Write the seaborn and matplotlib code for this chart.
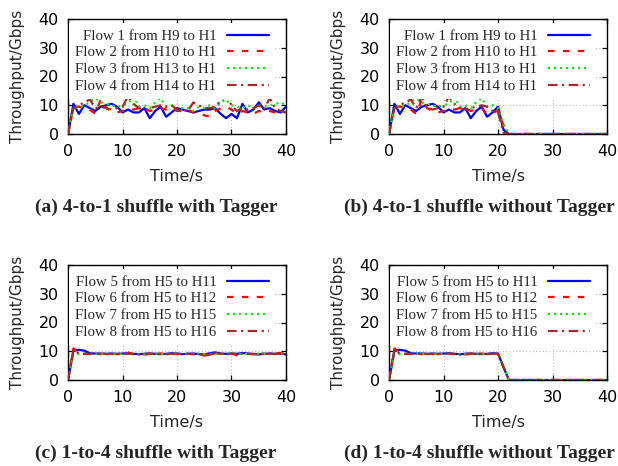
import numpy as np
import pandas as pd
import matplotlib
matplotlib.use("Agg")
import matplotlib.pyplot as plt
import seaborn as sns

time_s = list(range(0, 41))

labels_top = ["Flow 1 from H9 to H1", "Flow 2 from H10 to H1",
              "Flow 3 from H13 to H1", "Flow 4 from H14 to H1"]
labels_bot = ["Flow 5 from H5 to H11", "Flow 6 from H5 to H12",
              "Flow 7 from H5 to H15", "Flow 8 from H5 to H16"]

titles = ["(a) 4-to-1 shuffle with Tagger", "(b) 4-to-1 shuffle without Tagger",
          "(c) 1-to-4 shuffle with Tagger", "(d) 1-to-4 shuffle without Tagger"]

# panel (a)
f1_a = [0, 10.5, 7, 10, 9, 8, 9.5, 10, 10.5, 9.5, 7.5, 8.5, 7.5, 7.5, 9, 5.5, 8, 9.5, 6, 7.5,
        9, 8.5, 8, 7.5, 8, 8.5, 8.5, 9, 7, 5.5, 7, 5.5, 10.5, 7.5, 8.5, 11, 8.5, 9, 8, 7.5, 9.5]
f2_a = [0, 9.5, 9.5, 9, 8.5, 7, 12, 9, 8, 7.5, 8, 8.5, 8.5, 9, 9, 8, 8.5, 9, 8.5, 9,
        8, 8, 8.5, 7.5, 7.5, 6.5, 6, 8, 9, 9.5, 8.5, 7, 8, 7.5, 7, 8, 7.5, 8, 7.5, 8, 7.5]
f3_a = [0, 9.5, 9, 10, 11, 12.5, 11, 10.5, 10, 9.5, 10, 10.5, 13, 9.5, 10, 9, 11, 12.5, 9.5, 10,
        8.5, 9, 9, 8, 9.5, 9, 10, 9, 11, 12, 10, 9.5, 9, 10, 9, 10, 9.5, 10, 10.5, 11, 10]
f4_a = [0, 9, 10, 11, 12, 9, 9.5, 9, 8.5, 9, 9.5, 13, 10.5, 9, 8.5, 9, 9.5, 10, 9.5, 10,
        8.5, 8.5, 8, 11, 10, 9, 9, 9.5, 11.5, 13.5, 10, 8, 9, 8.5, 9, 10, 8.5, 12.5, 9, 8, 7.5]

# panel (b)
f1_b = [0, 10.5, 7, 10, 9, 8, 9.5, 10, 10.5, 9.5, 7.5, 8.5, 7.5, 7.5, 9, 5.5, 8, 9.5, 6, 7.5,
        9.5, 1.5, 0, 0, 0, 0, 0, 0, 0, 0, 0, 0, 0, 0, 0, 0, 0, 0, 0, 0, 0]
f2_b = [0, 9.5, 9.5, 9, 8.5, 7, 12, 9, 8, 7.5, 8, 8.5, 8.5, 9, 9, 8, 8.5, 9, 7, 7.5,
        8, 3, 0, 0, 0, 0, 0, 0, 0, 0, 0, 0, 0, 0, 0, 0, 0, 0, 0, 0, 0]
f3_b = [0, 9.5, 9, 10, 11, 12.5, 11, 10.5, 10, 9.5, 10, 10.5, 13, 9.5, 10, 9, 11, 12.5, 9.5, 10,
        9, 3.5, 0, 0, 0, 0, 0, 0, 0, 0, 0, 0, 0, 0, 0, 0, 0, 0, 0, 0, 0]
f4_b = [0, 9, 10, 11, 12, 9, 13, 9, 8.5, 9, 9.5, 13, 10.5, 9, 8.5, 9, 9.5, 10, 9.5, 8,
        7.5, 0.5, 0, 0, 0, 0, 0, 0, 0, 0, 0, 0, 0, 0, 0, 0, 0, 0, 0, 0, 0]

# panel (c)
f5_c = [0, 10.2, 10.5, 10.2, 9.3, 9.2, 9.2, 9.1, 9.2, 9.1, 9.2, 9.3, 9.1, 9.0, 9.1, 9.2, 9.1, 9.0, 9.1, 9.3,
        9.2, 9.0, 9.1, 9.2, 9.0, 8.9, 9.3, 9.6, 9.2, 9.1, 9.2, 9.1, 9.4, 9.2, 9.0, 8.9, 9.1, 9.2, 9.1, 9.2, 8.9]
f6_c = [0, 11.0, 9.0, 9.2, 9.0, 9.1, 9.0, 9.2, 9.1, 9.0, 9.2, 9.6, 9.0, 9.1, 8.9, 9.0, 9.1, 9.2, 9.0, 9.1,
        9.0, 9.2, 9.1, 9.0, 9.1, 8.5, 8.8, 9.2, 9.1, 9.0, 9.2, 8.6, 9.0, 9.1, 9.0, 9.2, 9.1, 9.0, 9.2, 9.4, 9.0]
f7_c = [0, 8.8, 9.0, 9.1, 9.0, 9.2, 9.1, 9.0, 9.1, 9.2, 9.0, 9.1, 9.2, 9.0, 9.1, 9.0, 9.2, 9.1, 9.0, 9.1,
        9.2, 9.0, 9.1, 9.0, 9.2, 9.1, 9.0, 9.2, 9.1, 9.0, 9.1, 9.2, 9.0, 9.1, 9.0, 9.2, 9.1, 9.0, 9.1, 9.2, 9.0]
f8_c = [0, 10.5, 9.2, 9.0, 9.1, 9.0, 9.2, 9.0, 9.1, 9.0, 9.1, 9.2, 9.0, 8.9, 9.1, 9.2, 9.0, 9.1, 9.0, 9.1,
        9.2, 9.0, 9.1, 9.0, 8.9, 8.6, 8.8, 9.3, 9.1, 9.0, 9.1, 9.0, 9.2, 9.0, 9.1, 9.0, 9.1, 9.2, 9.0, 9.3, 8.9]

# panel (d)
f5_d = [0, 10.2, 10.5, 10.2, 9.3, 9.2, 9.2, 9.1, 9.2, 9.1, 9.2, 9.3, 9.1, 9.0, 9.1, 9.2, 9.1, 9.0, 9.1, 9.3,
        9.2, 4.5, 0, 0, 0, 0, 0, 0, 0, 0, 0, 0, 0, 0, 0, 0, 0, 0, 0, 0, 0]
f6_d = [0, 11.0, 9.0, 9.2, 9.0, 9.1, 9.0, 9.2, 9.1, 9.0, 9.2, 9.3, 9.0, 9.1, 8.9, 9.0, 9.1, 9.2, 9.0, 9.1,
        9.1, 4.5, 0, 0, 0, 0, 0, 0, 0, 0, 0, 0, 0, 0, 0, 0, 0, 0, 0, 0, 0]
f7_d = [0, 8.8, 9.0, 9.1, 9.0, 9.2, 9.1, 9.0, 9.1, 9.2, 9.0, 9.1, 9.2, 9.0, 9.1, 9.0, 9.2, 9.1, 9.0, 9.1,
        9.2, 4.5, 0, 0, 0, 0, 0, 0, 0, 0, 0, 0, 0, 0, 0, 0, 0, 0, 0, 0, 0]
f8_d = [0, 10.5, 9.2, 9.0, 9.1, 9.0, 9.2, 9.0, 9.1, 9.0, 9.1, 9.2, 9.0, 8.9, 9.1, 9.2, 9.0, 9.1, 9.0, 9.1,
        9.2, 4.5, 0, 0, 0, 0, 0, 0, 0, 0, 0, 0, 0, 0, 0, 0, 0, 0, 0, 0, 0]

panels = [
    (labels_top, [f1_a, f2_a, f3_a, f4_a]),
    (labels_top, [f1_b, f2_b, f3_b, f4_b]),
    (labels_bot, [f5_c, f6_c, f7_c, f8_c]),
    (labels_bot, [f5_d, f6_d, f7_d, f8_d]),
]

colors = ["#0000ff", "#ff0000", "#00ee00", "#a52a2a"]
dash_styles = ["", (2.9, 3.8), (0.9, 1.8), (4.3, 2.0, 1.0, 2.0)]

sns.set_style("ticks")
plt.rcParams["font.family"] = ["DejaVu Sans"]
plt.rcParams["axes.linewidth"] = 1.0

fig = plt.figure(figsize=(6.18, 4.66), dpi=100)

W, H = 618.0, 466.0
ax_boxes = [(68, 19), (389, 19), (68, 265), (389, 265)]
aw, ah = 218, 115
title_pos = [(156, 207), (479, 207), (156, 453), (479, 453)]

for i, ((labels, series), (px, py)) in enumerate(zip(panels, ax_boxes)):
    ax = fig.add_axes([px / W, 1 - (py + ah) / H, aw / W, ah / H])
    frames = []
    for lab, vals in zip(labels, series):
        frames.append(pd.DataFrame({"Time": time_s, "Throughput": vals, "Flow": lab}))
    df = pd.concat(frames, ignore_index=True)
    sns.lineplot(data=df, x="Time", y="Throughput", hue="Flow", style="Flow",
                 hue_order=labels, style_order=labels,
                 palette=dict(zip(labels, colors)),
                 dashes=dict(zip(labels, dash_styles)),
                 linewidth=1.6, legend=False, ax=ax, zorder=3)
    ax.set_xlim(0, 40)
    ax.set_ylim(0, 40)
    ax.set_xticks([0, 10, 20, 30, 40])
    ax.set_yticks([0, 10, 20, 30, 40])
    ax.grid(True, color="#bbbbbb", linestyle=(0, (1, 2)), linewidth=0.8, zorder=0)
    ax.set_axisbelow(True)
    ax.tick_params(direction="in", length=3.6, width=0.9, top=True, right=True,
                   labelsize=11.5, colors="black")
    ax.tick_params(axis="x", pad=7.5)
    ax.tick_params(axis="y", pad=6.5)
    ax.set_xlabel("Time/s", fontsize=11.5, labelpad=7)
    ax.set_ylabel("Throughput/Gbps", fontsize=11, labelpad=10)
    for s in ax.spines.values():
        s.set_color("black")
        s.set_visible(True)
    lines = ax.get_lines()[:4]
    leg = ax.legend(lines, labels, loc="upper right", markerfirst=False,
                    bbox_to_anchor=(1 - 7.0 / aw, 1.0),
                    prop={"family": "Liberation Serif", "size": 10.7},
                    handlelength=2.8, handletextpad=0.7, labelspacing=0.22,
                    borderaxespad=0.3, borderpad=0.4, frameon=True,
                    fancybox=False, framealpha=1.0, edgecolor="white")
    leg.get_frame().set_linewidth(0)
    leg.set_zorder(5)
    tx, ty = title_pos[i]
    fig.text(tx / W, 1 - ty / H, titles[i], ha="center", va="center",
             fontsize=14, fontweight="bold", family="Liberation Serif")

fig.savefig("out.png", dpi=100)
